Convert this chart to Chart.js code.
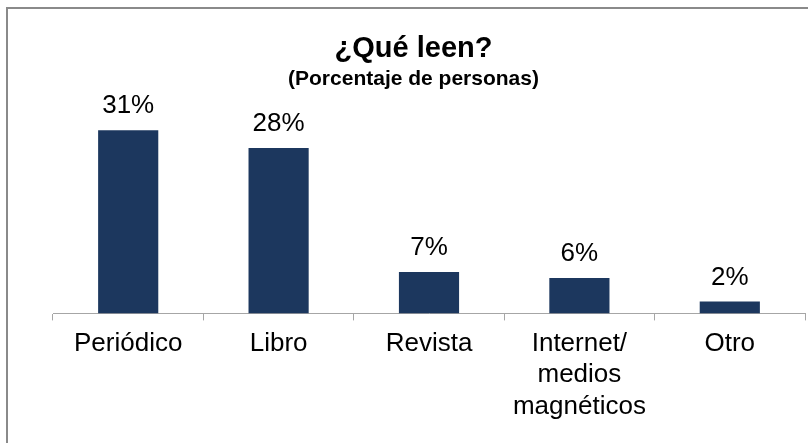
<!DOCTYPE html>
<html>
<head>
<meta charset="utf-8">
<script src="https://cdn.jsdelivr.net/npm/chart.js@4.4.1/dist/chart.umd.min.js"></script>
<style>
  html, body { margin: 0; padding: 0; background: #fff; overflow: hidden; }
  #wrap { position: absolute; left: 0; top: 0; width: 808px; height: 443px; }
  #frame { position: absolute; left: 6px; top: 7px; width: 900px; height: 600px;
           border: 2px solid #8a8a8a; pointer-events: none; }
</style>
</head>
<body>
<div id="wrap"><canvas id="myChart" width="808" height="443"></canvas></div>
<div id="frame"></div>
<script>
const categories = ["Periódico", "Libro", "Revista", ["Internet/", "medios", "magnéticos"], "Otro"];
const percentages = [31, 28, 7, 6, 2];
const yMax = 35;

const FONT = "'Liberation Sans', Arial, sans-serif";

// values above each bar
const valueLabels = {
    id: 'valueLabels',
    afterDatasetsDraw(chart) {
        const ctx = chart.ctx;
        const meta = chart.getDatasetMeta(0);
        ctx.save();
        ctx.font = '26px ' + FONT;
        ctx.fillStyle = '#000';
        ctx.textAlign = 'center';
        ctx.textBaseline = 'alphabetic';
        meta.data.forEach((bar, i) => {
            ctx.fillText(percentages[i] + '%', bar.x, bar.y - 17);
        });
        ctx.restore();
    }
};

const ctx = document.getElementById('myChart');
const myChart = new Chart(ctx, {
    type: 'bar',
    data: {
        labels: categories,
        datasets: [{
            label: 'Porcentaje',
            data: percentages,
            backgroundColor: '#1c375e',
            borderWidth: 0,
            categoryPercentage: 1,
            barPercentage: 0.4
        }]
    },
    options: {
        responsive: false,
        animation: false,
        layout: { padding: { left: 22, right: 3, top: 0, bottom: 13 } },
        plugins: {
            legend: { display: false },
            tooltip: { enabled: false },
            title: {
                display: true,
                text: '¿Qué leen?',
                color: '#000',
                font: { family: FONT, size: 29, weight: 'bold', lineHeight: 1.2 },
                padding: { top: 32, bottom: 0 }
            },
            subtitle: {
                display: true,
                text: '(Porcentaje de personas)',
                color: '#000',
                font: { family: FONT, size: 21, weight: 'bold', lineHeight: 1.2 },
                padding: { top: 0, bottom: 14.5 }
            }
        },
        scales: {
            x: {
                grid: { offset: true, drawOnChartArea: false, tickLength: 7, color: '#a6a6a6' },
                border: { color: '#a6a6a6', width: 1 },
                ticks: {
                    color: '#000',
                    padding: 8,
                    maxRotation: 0,
                    autoSkip: false,
                    font: { family: FONT, size: 26, lineHeight: 1.2 }
                }
            },
            y: {
                min: 0,
                max: yMax,
                grid: { display: false },
                border: { display: false },
                ticks: { display: false },
                afterFit(scale) { scale.width = 31; }
            }
        }
    },
    plugins: [valueLabels]
});
</script>
</body>
</html>
